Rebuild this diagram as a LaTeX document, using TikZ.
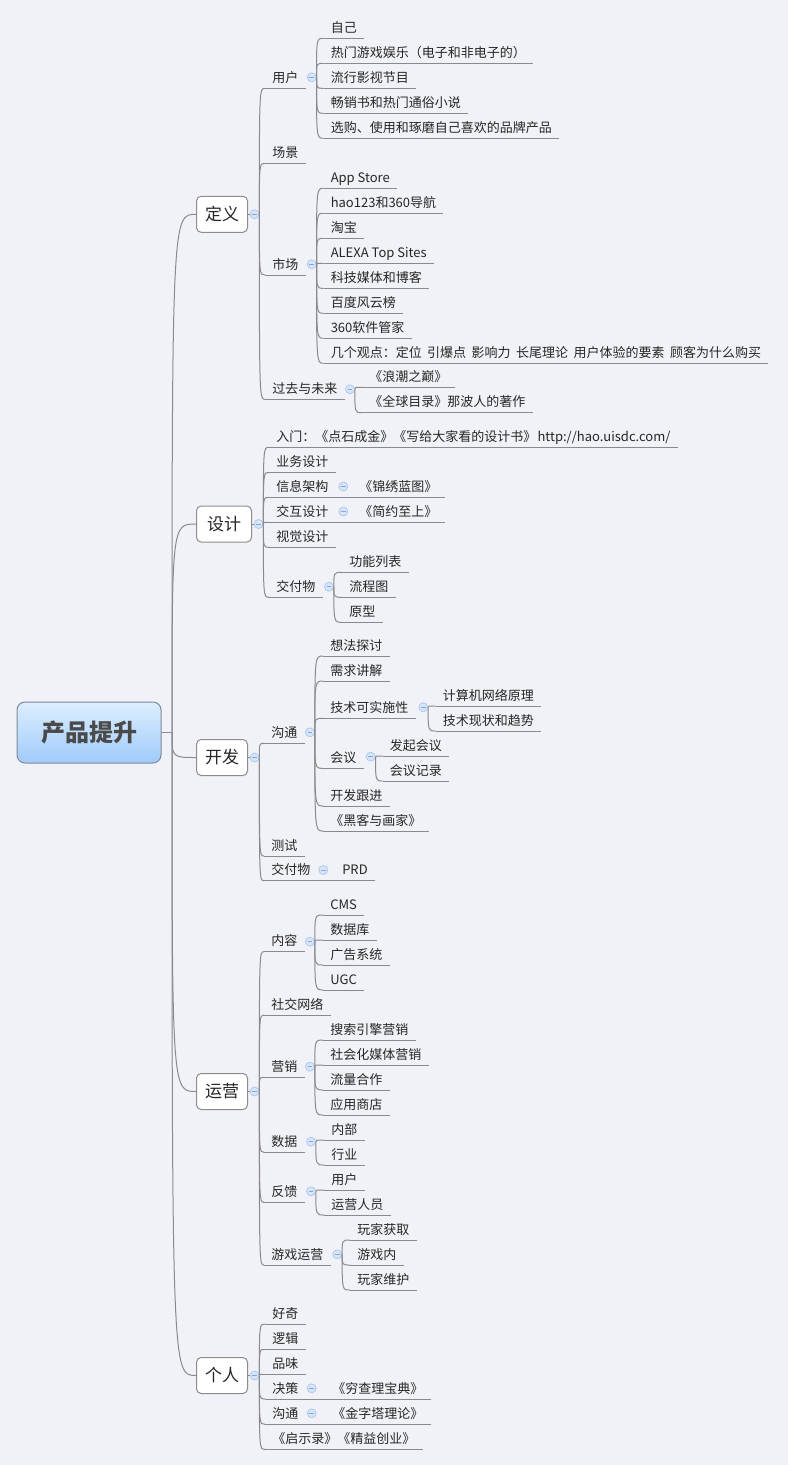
\documentclass[tikz,border=0pt]{standalone}
\usepackage{fontspec}
\setmainfont{Noto Sans CJK SC}
\newcommand\tfont{\fontsize{9.75pt}{11pt}\selectfont}
\newcommand\mfont{\fontsize{12.75pt}{14pt}\selectfont}
\newcommand\rfont{\fontsize{18pt}{20pt}\selectfont}
\newcommand\wsp{\hspace{0.42em}}
\definecolor{bg}{HTML}{F1F2F7}
\definecolor{txt}{HTML}{262626}
\definecolor{lc}{HTML}{8A8A8A}
\definecolor{bc}{HTML}{8C8C8C}
\definecolor{cfill}{HTML}{D6E5F9}
\definecolor{cdraw}{HTML}{A9C4EC}
\definecolor{cminus}{HTML}{86A6D8}
\definecolor{rtop}{HTML}{DDEEFF}
\definecolor{rbot}{HTML}{A0CBFA}
\definecolor{rc}{HTML}{7F8A96}
\definecolor{rtxt}{HTML}{4A4A4A}
\begin{document}
\begin{tikzpicture}[x=0.75pt,y=-0.75pt,
  ul/.style={draw=lc, line width=0.75pt},
  topic/.style={anchor=south west, font=\tfont, text=txt, inner xsep=5.25pt, inner ysep=0pt,
    text height=8pt, text depth=4.1pt,
    append after command={(\tikzlastnode.south west) edge[ul] (\tikzlastnode.south east)}},
  conn/.style={draw=lc, line width=0.75pt,
    to path={.. controls (\tikztostart |- \tikztotarget) .. (\tikztotarget)}},
  col/.style={circle, minimum size=6.75pt, inner sep=0pt, fill=cfill, draw=cdraw, line width=0.5pt,
    path picture={\draw[draw=cminus, line width=0.6pt] ([xshift=-1.8pt]path picture bounding box.center) -- ([xshift=1.8pt]path picture bounding box.center);}},
  mbox/.style={anchor=west, draw=bc, fill=white, rounded corners=3.5pt, line width=0.75pt,
    minimum width=38.25pt, minimum height=27pt, inner sep=0pt, font=\mfont, text=txt},
  rootbox/.style={draw=rc, line width=0.75pt, rounded corners=6pt, top color=rtop, bottom color=rbot,
    minimum width=108pt, minimum height=45.75pt, font=\rfont\bfseries, text=rtxt}
]
\useasboundingbox (0,0) rectangle (788,1465);
\fill[bg] (0,0) rectangle (788,1465);

% root
\node[rootbox] (root) at (89,732.5) {产品提升};
\coordinate (rb) at (172,732.5);
\draw[conn] (root.east) -- (rb);

% main boxes
\node[mbox] (A) at (196,214.3) {定义};
\node[mbox, minimum width=41.25pt] (B) at (196,524) {设计};
\node[mbox] (C) at (196,757.5) {开发};
\node[mbox] (D) at (196,1091.5) {运营};
\node[mbox] (E) at (196,1375.5) {个人};
\foreach \n in {A,B,C,D,E}{
  \draw[conn] (rb) to (\n.west);
  \node[col] (\n c) at ([xshift=4.9pt]\n.east) {};
  \draw[conn] (\n.east) -- (\n c.west);
}

% ---------------- 定义
\node[topic] (A1) at (265,88.3) {用户};
\node[topic] (A2) at (265,163.3) {场景};
\node[topic] (A3) at (265,275) {市场};
\node[topic] (A4) at (265,399.3) {过去与未来};
\foreach \k in {1,...,4} \draw[conn] (Ac.east) to (A\k.south west);

\node[col] (A1c) at (311.7,77.3) {};
\node[topic] (A11) at (323.5,38.3) {自己};
\node[topic] (A12) at (323.5,63.3) {热门游戏娱乐（电子和非电子的）};
\node[topic] (A13) at (323.5,88.3) {流行影视节目};
\node[topic] (A14) at (323.5,113.3) {畅销书和热门通俗小说};
\node[topic] (A15) at (323.5,138.3) {选购、使用和琢磨自己喜欢的品牌产品};
\foreach \k in {1,...,5} \draw[conn] (A1c.east) to (A1\k.south west);

\node[col] (A3c) at (311.7,264.3) {};
\node[topic] (A31) at (323.5,188.3) {App Store};
\node[topic] (A32) at (323.5,213.3) {hao123和360导航};
\node[topic] (A33) at (323.5,238.3) {淘宝};
\node[topic] (A34) at (323.5,263.3) {ALEXA Top Sites};
\node[topic] (A35) at (323.5,288.3) {科技媒体和博客};
\node[topic] (A36) at (323.5,313.3) {百度风云榜};
\node[topic] (A37) at (323.5,338.3) {360软件管家};
\node[topic] (A38) at (323.5,363.3) {几个观点：定位\wsp 引爆点\wsp 影响力\wsp 长尾理论\wsp 用户体验的要素\wsp 顾客为什么购买};
\foreach \k in {1,...,8} \draw[conn] (A3c.east) to (A3\k.south west);

\node[col] (A4c) at (350,389.3) {};
\node[topic] (A41) at (362,387.3) {《浪潮之巅》};
\node[topic] (A42) at (362,412.7) {《全球目录》那波人的著作};
\foreach \k in {1,2} \draw[conn] (A4c.east) to (A4\k.south west);

% ---------------- 设计
\node[topic] (B1) at (269,447.3) {入门：《点石成金》《写给大家看的设计书》\hspace{1pt}http://hao.uisdc.com/\hspace{5pt}};
\node[topic] (B2) at (269,472.3) {业务设计};
\node[topic] (B3) at (269,497.3) {信息架构};
\node[topic] (B4) at (269,522.3) {交互设计};
\node[topic] (B5) at (269,547.3) {视觉设计};
\node[topic] (B6) at (269,597.3) {交付物};
\foreach \k in {1,...,6} \draw[conn] (Bc.east) to (B\k.south west);

\node[col] (B3c) at (343.3,486.5) {};
\node[topic] (B31) at (352,497.3) {《锦绣蓝图》};
\draw[conn] (B3.south east) -- (B31.south west);
\node[col] (B4c) at (343.3,511.5) {};
\node[topic] (B41) at (352,522.3) {《简约至上》};
\draw[conn] (B4.south east) -- (B41.south west);

\node[col] (B6c) at (329,586.7) {};
\node[topic] (B61) at (342,572.3) {功能列表};
\node[topic] (B62) at (342,597.3) {流程图};
\node[topic] (B63) at (342,622.3) {原型};
\foreach \k in {1,2,3} \draw[conn] (B6c.east) to (B6\k.south west);

% ---------------- 开发
\node[topic] (C1) at (264,743.3) {沟通};
\node[topic] (C2) at (264,856) {测试};
\node[topic] (C3) at (264,880.7) {交付物};
\foreach \k in {1,2,3} \draw[conn] (Cc.east) to (C\k.south west);

\node[col] (C1c) at (310,732.3) {};
\node[topic] (C11) at (323,656) {想法探讨};
\node[topic] (C12) at (323,681) {需求讲解};
\node[topic] (C13) at (323,718.3) {技术可实施性};
\node[topic] (C14) at (323,768.3) {会议};
\node[topic] (C15) at (323,806) {开发跟进};
\node[topic] (C16) at (323,831) {《黑客与画家》};
\foreach \k in {1,...,6} \draw[conn] (C1c.east) to (C1\k.south west);

\node[col] (C13c) at (423.3,707.3) {};
\node[topic] (C131) at (435.5,706) {计算机网络原理};
\node[topic] (C132) at (435.5,731) {技术现状和趋势};
\foreach \k in {1,2} \draw[conn] (C13c.east) to (C13\k.south west);

\node[col] (C14c) at (370.7,756.7) {};
\node[topic] (C141) at (382.7,756) {发起会议};
\node[topic] (C142) at (382.7,781) {会议记录};
\foreach \k in {1,2} \draw[conn] (C14c.east) to (C14\k.south west);

\node[col] (C3c) at (323.3,870) {};
\node[topic] (C31) at (335,880.7) {PRD};
\draw[conn] (C3.south east) -- (C31.south west);

% ---------------- 运营
\node[topic] (D1) at (264,951.7) {内容};
\node[topic] (D2) at (264,1015) {社交网络};
\node[topic] (D3) at (264,1077.3) {营销};
\node[topic] (D4) at (264,1152.3) {数据};
\node[topic] (D5) at (264,1202.3) {反馈};
\node[topic] (D6) at (264,1265) {游戏运营};
\foreach \k in {1,...,6} \draw[conn] (Dc.east) to (D\k.south west);

\node[col] (D1c) at (310,941.7) {};
\node[topic] (D11) at (323,915) {CMS};
\node[topic] (D12) at (323,940) {数据库};
\node[topic] (D13) at (323,965) {广告系统};
\node[topic] (D14) at (323,990) {UGC};
\foreach \k in {1,...,4} \draw[conn] (D1c.east) to (D1\k.south west);

\node[col] (D3c) at (310,1066.7) {};
\node[topic] (D31) at (323,1040) {搜索引擎营销};
\node[topic] (D32) at (323,1065) {社会化媒体营销};
\node[topic] (D33) at (323,1090) {流量合作};
\node[topic] (D34) at (323,1115) {应用商店};
\foreach \k in {1,...,4} \draw[conn] (D3c.east) to (D3\k.south west);

\node[col] (D4c) at (311,1141.7) {};
\node[topic] (D41) at (324,1140) {内部};
\node[topic] (D42) at (324,1165) {行业};
\foreach \k in {1,2} \draw[conn] (D4c.east) to (D4\k.south west);

\node[col] (D5c) at (311,1191.3) {};
\node[topic] (D51) at (324,1190) {用户};
\node[topic] (D52) at (324,1215) {运营人员};
\foreach \k in {1,2} \draw[conn] (D5c.east) to (D5\k.south west);

\node[col] (D6c) at (337.3,1254.3) {};
\node[topic] (D61) at (350,1240) {玩家获取};
\node[topic] (D62) at (350,1265) {游戏内};
\node[topic] (D63) at (350,1290) {玩家维护};
\foreach \k in {1,2,3} \draw[conn] (D6c.east) to (D6\k.south west);

% ---------------- 个人
\node[topic] (E1) at (265,1324) {好奇};
\node[topic] (E2) at (265,1349.3) {逻辑};
\node[topic] (E3) at (265,1374.3) {品味};
\node[topic] (E4) at (265,1399) {决策};
\node[topic] (E5) at (265,1424.3) {沟通};
\node[topic] (E6) at (265,1449.3) {《启示录》《精益创业》};
\foreach \k in {1,...,6} \draw[conn] (Ec.east) to (E\k.south west);

\node[col] (E4c) at (311.7,1388.3) {};
\node[topic] (E41) at (325,1399) {《穷查理宝典》};
\draw[conn] (E4.south east) -- (E41.south west);
\node[col] (E5c) at (311.7,1413.3) {};
\node[topic] (E51) at (325,1424.3) {《金字塔理论》};
\draw[conn] (E5.south east) -- (E51.south west);
\end{tikzpicture}
\end{document}
